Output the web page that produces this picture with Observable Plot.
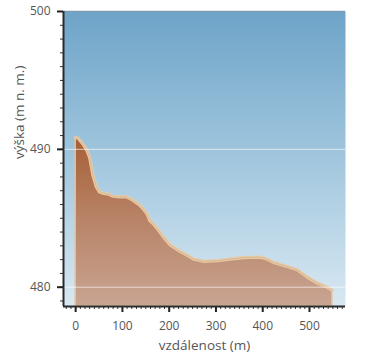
<!DOCTYPE html>
<html>
<head>
<meta charset="utf-8">
<script src="https://cdn.jsdelivr.net/npm/d3@7"></script>
<script src="https://cdn.jsdelivr.net/npm/@observablehq/plot@0.6"></script>
<style>
  html, body { margin: 0; padding: 0; background: #fff; }
  #chart svg { display: block; }
</style>
</head>
<body>
<div id="chart"></div>
<script>
const distance = [0, 5, 15, 23, 30, 37, 44, 51, 60, 70, 80, 94, 109, 123, 137, 144, 152, 159, 166, 180, 187, 202, 223, 245, 252, 273, 302, 330, 359, 395, 409, 423, 452, 474, 495, 517, 538, 549];
const elevation = [490.85, 490.8, 490.4, 490.0, 489.4, 488.1, 487.3, 486.9, 486.8, 486.75, 486.6, 486.55, 486.55, 486.3, 485.95, 485.7, 485.35, 484.8, 484.6, 484.0, 483.67, 483.07, 482.6, 482.2, 482.04, 481.88, 481.92, 482.04, 482.15, 482.18, 482.04, 481.8, 481.5, 481.26, 480.74, 480.3, 480.0, 479.77];
const xMajorTicks = [0, 100, 200, 300, 400, 500];
const yMajorTicks = [480, 490, 500];
const xLabel = "vzdálenost (m)";
const yLabel = "výška (m n. m.)";

const data = distance.map((d, i) => ({d, v: elevation[i]}));
const xDomain = [-26, 577];
const yDomain = [478.6, 500];
const xMinor = d3.range(-20, 577, 10);
const yMinor = d3.range(479, 501, 1);

const chart = Plot.plot({
  width: 371,
  height: 361,
  marginLeft: 63,
  marginRight: 26,
  marginTop: 11,
  marginBottom: 55,
  style: {fontFamily: "'Open Sans', sans-serif", fontSize: "12px", color: "#555", background: "#fff"},
  x: {domain: xDomain},
  y: {domain: yDomain},
  marks: [
    Plot.frame({fill: "url(#sky)", stroke: null}),
    Plot.areaY(data, {x: "d", y1: yDomain[0], y2: "v", fill: "url(#earth)", stroke: "#e3c4a0", strokeWidth: 1.5}),
    Plot.lineY(data, {x: "d", y: "v", stroke: "#e8cba6", strokeWidth: 3.2, strokeOpacity: 0.95}),
    Plot.lineY(data, {x: "d", y: "v", stroke: "#c9a27c", strokeWidth: 0.8, strokeOpacity: 0.6}),
    Plot.ruleY([480, 490], {stroke: "#ffffff", strokeOpacity: 0.65, strokeWidth: 1}),
    Plot.ruleY([500], {stroke: "#7d9db3", strokeWidth: 1.5}),
    Plot.axisY({ticks: yMinor, tickSize: 3, text: null, stroke: "#333", label: null}),
    Plot.axisY({ticks: yMajorTicks, tickSize: 6, tickPadding: 7, strokeWidth: 2, stroke: "#222", fill: "#555", label: null}),
    Plot.axisX({ticks: xMinor, tickSize: 3, text: null, stroke: "#333", label: null}),
    Plot.axisX({ticks: xMajorTicks, tickSize: 6, tickPadding: 9, strokeWidth: 2, stroke: "#222", fill: "#555", label: null}),
    Plot.ruleX([xDomain[0]], {stroke: "#2a2a2a", strokeWidth: 2}),
    Plot.ruleY([yDomain[0]], {stroke: "#2a2a2a", strokeWidth: 2}),
    Plot.text([xLabel], {frameAnchor: "bottom", dy: 43, fontSize: 13.5, fill: "#555"}),
    Plot.text([yLabel], {frameAnchor: "left", dx: -44, rotate: -90, fontSize: 13.5, fill: "#555"})
  ]
});

d3.select(chart).insert("defs", ":first-child").html(`
  <linearGradient id="sky" x1="0" y1="0" x2="0" y2="1">
    <stop offset="0" stop-color="#6ea4c8"/>
    <stop offset="0.45" stop-color="#9cc3dc"/>
    <stop offset="1" stop-color="#d8e8f2"/>
  </linearGradient>
  <linearGradient id="earth" x1="0" y1="0" x2="0" y2="1">
    <stop offset="0" stop-color="#a65f36"/>
    <stop offset="0.5" stop-color="#b98468"/>
    <stop offset="1" stop-color="#c8a592"/>
  </linearGradient>
`);

document.getElementById("chart").appendChild(chart);
</script>
</body>
</html>
